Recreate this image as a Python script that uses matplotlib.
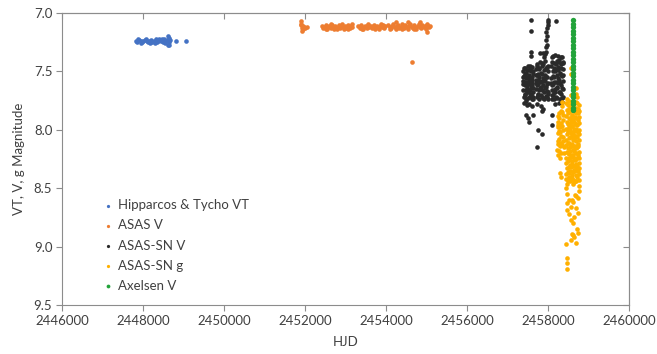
import matplotlib
matplotlib.use("Agg")
import matplotlib.pyplot as plt

# ---------------- data ----------------
# Hipparcos & Tycho VT
hip_jd = [2447830, 2447860, 2447900, 2447940, 2447980, 2448010, 2448050, 2448090,
          2448120, 2448160, 2448200, 2448230, 2448270, 2448310, 2448350, 2448380,
          2448420, 2448450, 2448490, 2448520, 2448560, 2448590, 2448610, 2448630,
          2448650, 2448670, 2448615, 2448640, 2448820, 2449050,
          2447880, 2447960, 2448070, 2448180, 2448290, 2448400, 2448470, 2448540]
hip_mag = [7.24, 7.25, 7.23, 7.24, 7.25, 7.24, 7.23, 7.24,
           7.25, 7.24, 7.23, 7.25, 7.24, 7.22, 7.25, 7.24,
           7.23, 7.24, 7.25, 7.22, 7.24, 7.23, 7.20, 7.27,
           7.25, 7.23, 7.27, 7.21, 7.24, 7.24,
           7.22, 7.26, 7.22, 7.26, 7.26, 7.22, 7.22, 7.26]

# ASAS V
asas_jd = [2451890, 2451900, 2451915, 2451930, 2451950, 2451960, 2451985, 2452010, 2452040, 2451905,
           2452420, 2452450, 2452480, 2452510, 2452540, 2452570, 2452600, 2452630, 2452660, 2452690,
           2452720, 2452750, 2452780, 2452810, 2452840, 2452870, 2452900, 2452930, 2452960, 2452990,
           2453020, 2453050, 2453080, 2453110, 2453140, 2453170, 2452530, 2452650, 2452790, 2452920,
           2453060, 2453150,
           2453320, 2453350, 2453380, 2453410, 2453440, 2453470, 2453500, 2453530, 2453560, 2453590,
           2453620, 2453650, 2453680, 2453710, 2453740, 2453770, 2453800, 2453830, 2453860, 2453890,
           2453920, 2453950, 2453970, 2453400, 2453560, 2453720, 2453880,
           2454060, 2454090, 2454120, 2454150, 2454180, 2454210, 2454240, 2454270, 2454300, 2454330,
           2454360, 2454390, 2454420, 2454450, 2454480, 2454510, 2454540, 2454570, 2454600, 2454630,
           2454660, 2454690, 2454720, 2454750, 2454780, 2454810, 2454840, 2454870, 2454900, 2454930,
           2454960, 2454990, 2455020, 2455050, 2455080, 2454100, 2454250, 2454400, 2454550, 2454700,
           2454850, 2455000, 2454640, 2455010]
asas_mag = [7.10, 7.07, 7.13, 7.15, 7.11, 7.14, 7.12, 7.13, 7.12, 7.09,
            7.11, 7.13, 7.12, 7.10, 7.14, 7.12, 7.11, 7.13, 7.10, 7.12,
            7.14, 7.11, 7.13, 7.12, 7.10, 7.13, 7.11, 7.12, 7.14, 7.11,
            7.13, 7.10, 7.12, 7.13, 7.11, 7.12, 7.14, 7.09, 7.14, 7.09,
            7.14, 7.09,
            7.11, 7.13, 7.10, 7.12, 7.14, 7.11, 7.12, 7.13, 7.10, 7.12,
            7.11, 7.13, 7.12, 7.10, 7.13, 7.11, 7.12, 7.14, 7.11, 7.12,
            7.10, 7.13, 7.11, 7.14, 7.09, 7.14, 7.09,
            7.10, 7.12, 7.13, 7.11, 7.09, 7.12, 7.14, 7.11, 7.10, 7.13,
            7.12, 7.09, 7.11, 7.13, 7.10, 7.12, 7.14, 7.11, 7.09, 7.12,
            7.13, 7.10, 7.12, 7.14, 7.11, 7.09, 7.12, 7.13, 7.10, 7.12,
            7.11, 7.14, 7.10, 7.12, 7.11, 7.14, 7.08, 7.14, 7.08, 7.14,
            7.08, 7.09, 7.42, 7.16]

# ASAS-SN V
sn_v_jd = [2457390, 2457395, 2457385, 2457400, 2457410, 2457420, 2457430, 2457440, 2457450, 2457460,
           2457470, 2457465, 2457490, 2457500, 2457505, 2457515, 2457520, 2457530, 2457545, 2457550,
           2457560, 2457565, 2457575, 2457580, 2457595, 2457600, 2457605, 2457615, 2457620, 2457630,
           2457635, 2457410, 2457480, 2457540, 2457600, 2457380, 2457455, 2457525, 2457590, 2457625,
           2457400, 2457420, 2457440, 2457460, 2457480, 2457500, 2457520, 2457540, 2457560, 2457580,
           2457600, 2457620, 2457640, 2457385, 2457425, 2457485, 2457545, 2457610, 2457470, 2457530,
           2457580, 2457590, 2457570, 2457585, 2457450, 2457515, 2457525, 2457640,
           2457710, 2457715, 2457705, 2457720, 2457740, 2457745, 2457750, 2457760, 2457775, 2457780,
           2457790, 2457795, 2457810, 2457820, 2457825, 2457835, 2457850, 2457855, 2457865, 2457875,
           2457885, 2457895, 2457905, 2457915, 2457925, 2457935, 2457945, 2457955, 2457965, 2457975,
           2457985, 2457995, 2458005, 2457990, 2457730, 2457800, 2457870, 2457940, 2457700, 2458000,
           2457705, 2457725, 2457730, 2457755, 2457770, 2457785, 2457805, 2457830, 2457845, 2457860,
           2457880, 2457890, 2457910, 2457920, 2457940, 2457950, 2457970, 2457980, 2457995, 2458008,
           2457765, 2457840,
           2457900, 2457930, 2457960, 2457880, 2457800, 2457950, 2457970, 2457960, 2457975, 2457955,
           2457985, 2457990, 2458000, 2458010,
           2457735, 2457760, 2457845, 2457885, 2457860, 2457720, 2457815,
           2458080, 2458085, 2458090, 2458095, 2458110, 2458115, 2458125, 2458135, 2458150, 2458155,
           2458165, 2458175, 2458185, 2458190, 2458200, 2458215, 2458220, 2458230, 2458245, 2458250,
           2458260, 2458270, 2458280, 2458290, 2458300, 2458310, 2458320, 2458330, 2458340, 2458350,
           2458360, 2458370, 2458375, 2458380, 2458100, 2458170, 2458240, 2458310, 2458365, 2458140,
           2458078, 2458100, 2458105, 2458120, 2458140, 2458145, 2458160, 2458180, 2458195, 2458210,
           2458225, 2458235, 2458255, 2458265, 2458285, 2458295, 2458315, 2458325, 2458345, 2458355,
           2458370, 2458378, 2458120,
           2458190, 2458090, 2458105, 2458340, 2458170, 2458260]
sn_v_mag = [7.50, 7.58, 7.66, 7.72, 7.54, 7.62, 7.47, 7.69, 7.75, 7.56,
            7.64, 7.51, 7.59, 7.45, 7.68, 7.73, 7.53, 7.61, 7.48, 7.66,
            7.57, 7.71, 7.50, 7.63, 7.55, 7.74, 7.46, 7.60, 7.68, 7.52,
            7.64, 7.77, 7.79, 7.78, 7.80, 7.61, 7.66, 7.56, 7.69, 7.74,
            7.47, 7.70, 7.52, 7.74, 7.62, 7.55, 7.66, 7.58, 7.45, 7.70,
            7.62, 7.50, 7.72, 7.55, 7.59, 7.68, 7.72, 7.57, 7.49, 7.49,
            7.06, 7.15, 7.33, 7.37, 7.87, 7.90, 7.93, 7.87,
            7.48, 7.57, 7.65, 7.72, 7.44, 7.52, 7.61, 7.69, 7.74, 7.55,
            7.47, 7.64, 7.42, 7.59, 7.70, 7.51, 7.66, 7.45, 7.56, 7.73,
            7.62, 7.49, 7.68, 7.41, 7.58, 7.53, 7.71, 7.63, 7.46, 7.67,
            7.55, 7.74, 7.60, 7.50, 7.53, 7.65, 7.58, 7.47, 7.60, 7.69,
            7.53, 7.62, 7.45, 7.70, 7.48, 7.66, 7.58, 7.63, 7.72, 7.52,
            7.44, 7.57, 7.74, 7.64, 7.48, 7.55, 7.72, 7.61, 7.45, 7.68,
            7.57, 7.43,
            7.38, 7.35, 7.33, 7.34, 7.34, 7.29, 7.27, 7.23, 7.20, 7.16,
            7.13, 7.10, 7.08, 7.06,
            8.15, 8.00, 8.04, 7.82, 7.84, 7.78, 7.80,
            7.45, 7.56, 7.66, 7.74, 7.38, 7.50, 7.61, 7.70, 7.43, 7.55,
            7.65, 7.36, 7.48, 7.59, 7.72, 7.41, 7.53, 7.63, 7.37, 7.46,
            7.68, 7.57, 7.40, 7.51, 7.74, 7.62, 7.44, 7.69, 7.54, 7.38,
            7.48, 7.65, 7.58, 7.72, 7.62, 7.50, 7.60, 7.47, 7.42, 7.68,
            7.60, 7.70, 7.42, 7.54, 7.74, 7.47, 7.59, 7.68, 7.44, 7.64,
            7.73, 7.49, 7.56, 7.42, 7.68, 7.60, 7.53, 7.38, 7.64, 7.73,
            7.43, 7.53, 7.37,
            7.07, 7.87, 7.96, 7.76, 7.78, 7.77]

# ASAS-SN g
sn_g_jd = [2458340, 2458350, 2458330, 2458240, 2458280, 2458360, 2458250, 2458300, 2458380, 2458240,
           2458320, 2458270, 2458360, 2458235, 2458300, 2458390, 2458260, 2458330, 2458240, 2458290,
           2458370, 2458250, 2458380, 2458310, 2458230, 2458275, 2458345, 2458300, 2458330,
           2458260, 2458355, 2458285, 2458345, 2458255, 2458385, 2458235, 2458320,
           2458560, 2458570, 2458700, 2458560, 2458700, 2458460, 2458720,
           2458455, 2458462, 2458450, 2458458, 2458452, 2458465, 2458455, 2458448, 2458460, 2458455,
           2458450, 2458462, 2458456, 2458450, 2458458, 2458452,
           2458490, 2458495, 2458488, 2458492, 2458497, 2458490, 2458486, 2458494, 2458491,
           2458530, 2458538, 2458525, 2458535, 2458528, 2458540, 2458532, 2458525, 2458537, 2458530,
           2458528, 2458540, 2458533, 2458526, 2458536, 2458530, 2458538, 2458527,
           2458570, 2458575, 2458566, 2458572, 2458568, 2458574, 2458570, 2458566,
           2458605, 2458612, 2458600, 2458610, 2458603, 2458615, 2458607, 2458600, 2458612, 2458605,
           2458603, 2458615, 2458608, 2458600, 2458611, 2458605, 2458613, 2458602,
           2458650, 2458655, 2458646, 2458652, 2458648, 2458656, 2458650, 2458645,
           2458685, 2458692, 2458680, 2458690, 2458683, 2458695, 2458687, 2458680, 2458692, 2458685,
           2458683, 2458695, 2458688, 2458680, 2458691, 2458685, 2458693, 2458682,
           2458725, 2458730, 2458722, 2458728, 2458724, 2458731, 2458726, 2458721,
           2458760, 2458765, 2458755, 2458762, 2458757, 2458768, 2458760, 2458752, 2458764, 2458758,
           2458756, 2458766, 2458760, 2458754, 2458763, 2458758,
           2458510, 2458515, 2458508, 2458512, 2458506, 2458514, 2458510, 2458507,
           2458590, 2458594, 2458586, 2458592, 2458588, 2458595, 2458590, 2458585,
           2458630, 2458636, 2458628, 2458634, 2458631, 2458637, 2458629,
           2458670, 2458674, 2458666, 2458672, 2458668, 2458675, 2458670,
           2458745, 2458740, 2458748, 2458742, 2458746, 2458741,
           2458470, 2458660, 2458740, 2458520, 2458600, 2458700, 2458480, 2458620, 2458560,
           2458470, 2458700, 2458735, 2458510, 2458640, 2458560, 2458620, 2458710, 2458600,
           2458650, 2458740, 2458560, 2458690, 2458440, 2458620, 2458470, 2458470, 2458470]
sn_g_mag = [7.76, 7.80, 7.84, 7.88, 7.90, 7.92, 7.96, 7.98, 8.00, 8.03,
            8.05, 8.08, 8.10, 8.12, 8.14, 8.15, 8.18, 8.20, 8.22, 8.24,
            8.06, 7.93, 7.87, 8.11, 8.17, 8.01, 7.97, 8.37, 8.40,
            7.86, 7.85, 8.02, 8.13, 8.10, 8.20, 7.98, 7.94,
            7.47, 7.52, 7.64, 7.70, 7.69, 7.74, 7.72,
            7.77, 7.83, 7.88, 7.93, 7.99, 8.04, 8.09, 8.13, 8.19, 8.24,
            8.28, 8.33, 8.38, 8.42, 8.46, 8.50,
            7.79, 7.86, 7.95, 8.02, 8.11, 8.20, 8.27, 8.36, 8.44,
            7.75, 7.80, 7.85, 7.91, 7.95, 8.00, 8.06, 8.11, 8.15, 8.21,
            8.26, 8.30, 8.35, 8.40, 8.44, 7.98, 8.18, 8.37,
            7.76, 7.84, 7.93, 8.03, 8.13, 8.23, 8.32, 8.42,
            7.78, 7.82, 7.87, 7.92, 7.97, 8.02, 8.07, 8.12, 8.17, 8.22,
            8.27, 8.31, 8.36, 8.41, 8.46, 7.90, 8.09, 8.29,
            7.81, 7.89, 7.99, 8.08, 8.18, 8.26, 8.35, 8.45,
            7.76, 7.81, 7.86, 7.90, 7.95, 8.01, 8.05, 8.10, 8.16, 8.20,
            8.25, 8.29, 8.34, 8.39, 8.44, 7.99, 8.14, 8.32,
            7.77, 7.86, 7.96, 8.06, 8.15, 8.23, 8.31, 8.40,
            7.79, 7.84, 7.89, 7.94, 8.00, 8.04, 8.09, 8.14, 8.19, 8.24,
            8.28, 8.33, 8.38, 8.43, 8.48, 8.52,
            7.82, 7.90, 7.99, 8.07, 8.16, 8.24, 8.32, 8.41,
            7.80, 7.88, 7.97, 8.05, 8.14, 8.22, 8.30, 8.39,
            7.83, 7.93, 8.04, 8.14, 8.24, 8.34, 8.43,
            7.85, 7.95, 8.05, 8.15, 8.25, 8.34, 8.44,
            7.82, 7.92, 8.02, 8.12, 8.22, 8.35,
            8.55, 8.56, 8.58, 8.60, 8.60, 8.57, 8.63, 8.62, 8.66,
            8.69, 8.67, 8.71, 8.72, 8.75, 8.77, 8.80, 8.85, 8.89,
            8.92, 8.88, 8.94, 8.97, 8.98, 8.90, 9.10, 9.14, 9.19]

# Axelsen V
axel_jd = [2458618, 2458622, 2458620, 2458617, 2458623, 2458619, 2458621, 2458618, 2458622, 2458620,
           2458617, 2458623, 2458619, 2458621, 2458618, 2458622, 2458620, 2458617, 2458623, 2458619,
           2458621, 2458618, 2458622, 2458620, 2458619, 2458621, 2458620]
axel_mag = [7.06, 7.09, 7.12, 7.15, 7.18, 7.21, 7.24, 7.27, 7.30, 7.33,
            7.36, 7.39, 7.42, 7.45, 7.48, 7.51, 7.54, 7.57, 7.60, 7.63,
            7.66, 7.69, 7.72, 7.75, 7.78, 7.81, 7.83]

x_ticks = [2446000, 2448000, 2450000, 2452000, 2454000, 2456000, 2458000, 2460000]
y_ticks = [7.0, 7.5, 8.0, 8.5, 9.0, 9.5]

# ---------------- plot ----------------
plt.rcParams['font.family'] = ['Lato', 'DejaVu Sans']
text_col = '#404040'
spine_col = '#8c8c8c'

fig = plt.figure(figsize=(6.57, 3.54), dpi=100)
ax = fig.add_axes([62/657, 1 - 305/354, 567/657, 292/354])

ms = 11
ax.scatter(hip_jd, hip_mag, s=ms, color='#4472C4', linewidths=0, label='Hipparcos & Tycho VT')
ax.scatter(asas_jd, asas_mag, s=ms, color='#ED7D31', linewidths=0, label='ASAS V')
ax.scatter(sn_v_jd, sn_v_mag, s=ms, color='#2a2a2a', linewidths=0, label='ASAS-SN V')
ax.scatter(sn_g_jd, sn_g_mag, s=ms, color='#FFB000', linewidths=0, label='ASAS-SN g')
ax.scatter(axel_jd, axel_mag, s=15, color='#22A33A', linewidths=0, label='Axelsen V')

ax.set_xlim(2446000, 2460000)
ax.set_ylim(9.5, 7.0)
ax.set_xticks(x_ticks)
ax.set_yticks(y_ticks)
ax.set_xticklabels([str(t) for t in x_ticks])
ax.set_yticklabels(['%.1f' % t for t in y_ticks])
ax.tick_params(direction='out', length=4, color=spine_col, labelcolor=text_col, labelsize=9.5, pad=3)

for sp in ax.spines.values():
    sp.set_color(spine_col)

# inward ticks on top and right like the original
top = ax.secondary_xaxis('top')
top.set_xticks(x_ticks)
top.tick_params(direction='in', length=4, color=spine_col, labeltop=False)
top.spines['top'].set_color(spine_col)
right = ax.secondary_yaxis('right')
right.set_yticks(y_ticks)
right.tick_params(direction='in', length=4, color=spine_col, labelright=False)
right.spines['right'].set_color(spine_col)

ax.set_xlabel('HJD', color=text_col, fontsize=9.5, labelpad=7)
ax.set_ylabel('VT, V, g Magnitude', color=text_col, fontsize=9.5, labelpad=6)

leg = ax.legend(loc='upper left', bbox_to_anchor=(0.062, 0.385), frameon=False,
                fontsize=9.5, handlelength=0.6, handletextpad=0.5, labelspacing=0.62,
                borderpad=0, markerscale=0.7)
for t in leg.get_texts():
    t.set_color(text_col)

fig.savefig('out.png', dpi=100)
